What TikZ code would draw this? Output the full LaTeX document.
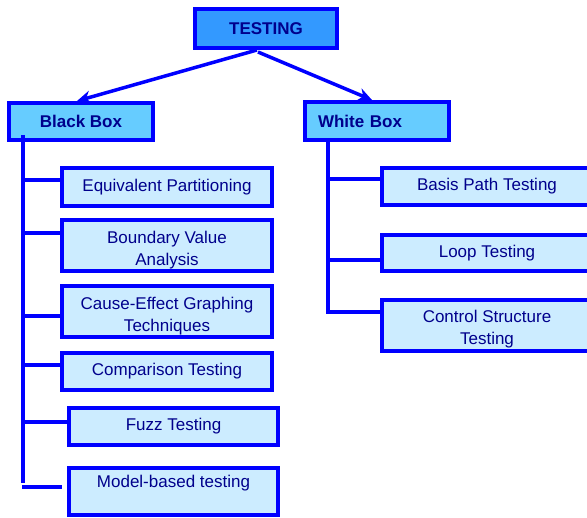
\documentclass[tikz,border=0pt]{standalone}
\usepackage{fontspec}
\setmainfont{Liberation Sans}
\usetikzlibrary{arrows.meta,calc}
\definecolor{bord}{RGB}{0,0,255}
\definecolor{navytxt}{RGB}{0,0,140}
\definecolor{topfill}{RGB}{51,153,255}
\definecolor{midfill}{RGB}{102,204,255}
\definecolor{leaffill}{RGB}{204,236,255}
\begin{document}
\begin{tikzpicture}[x=1pt,y=-1pt,
  base/.style={draw=bord, line width=4pt, text=navytxt, inner sep=0pt,
    font=\fontsize{17}{22}\selectfont, align=center},
  topbox/.style={base, fill=topfill, font=\fontsize{17}{22}\selectfont\bfseries},
  midbox/.style={base, fill=midfill, font=\fontsize{17}{22}\selectfont\bfseries},
  leaf/.style={base, fill=leaffill, minimum width=210pt},
  txt/.style={text=navytxt, inner sep=0pt, font=\fontsize{17}{22}\selectfont, align=center},
  conn/.style={draw=bord, line width=3.5pt},
  arr/.style={draw=bord, line width=3.5pt, -{Stealth[length=14pt,width=13pt]}}]
\useasboundingbox (0,0) rectangle (587,518);
\clip (0,0) rectangle (587,518);
\fill[white] (0,0) rectangle (587,518);

% top
\node[topbox, minimum width=142pt, minimum height=39pt] (t) at (266,28.5) {TESTING};
\node[midbox, minimum width=144pt, minimum height=37pt] (bb) at (81,121.5) {Black Box};
\node[midbox, minimum width=144pt, minimum height=38pt, text width=136pt, align=left] (wb) at (377,121) {\hspace*{9pt}White Box};

% left leaves
\node[leaf, minimum height=38pt] (eq) at (167,187) {Equivalent Partitioning};
\node[leaf, minimum height=51pt] (bv) at (167,245.5) {};
\node[txt] (bvt) at (167,250) {Boundary Value\\Analysis};
\node[leaf, minimum height=51pt] (ce) at (167,311.5) {};
\node[txt] (cet) at (167,316) {Cause-Effect Graphing\\Techniques};
\node[leaf, minimum height=37pt] (cp) at (167,371.5) {Comparison Testing};
\node[leaf, minimum width=209pt, minimum height=37pt] (fz) at (173.5,426.5) {Fuzz Testing};
\node[leaf, minimum width=209pt, minimum height=47pt] (mb) at (173.5,491.5) {};
\node[txt] (mbt) at (173.5,483) {Model-based testing};

% right leaves
\node[leaf, minimum height=37pt] (bp) at (487,186.5) {Basis Path Testing};
\node[leaf, minimum height=36pt] (lp) at (487,253) {Loop Testing};
\node[leaf, minimum height=51pt] (cs) at (487,325.5) {};
\node[txt] (cst) at (487,329) {Control Structure\\Testing};

% arrows
\draw[arr] ($(t.south)+(-9,0)$) -- ($(bb.north)+(-4,0)$);
\draw[arr] ($(t.south)+(-8,2)$) -- ($(wb.north)+(-5,0)$);

% left trunk
\coordinate (lt) at (23,135);
\coordinate (lb) at (23,483);
\draw[conn] (lt) -- (lb);
\coordinate (l1) at (23,180);
\coordinate (l2) at (23,233);
\coordinate (l3) at (23,316);
\coordinate (l4) at (23,365);
\coordinate (l5) at (23,422);
\coordinate (l6) at (22,487);
\coordinate (l6e) at (62,487);
\draw[conn] (l1) -- (l1 -| eq.west);
\draw[conn] (l2) -- (l2 -| bv.west);
\draw[conn] (l3) -- (l3 -| ce.west);
\draw[conn] (l4) -- (l4 -| cp.west);
\draw[conn] (l5) -- (l5 -| fz.west);
\draw[conn] (l6) -- (l6e);

% right trunk
\coordinate (rt) at (328,142);
\coordinate (r1) at (328,179);
\coordinate (r2) at (328,260);
\coordinate (r3) at (328,312);
\draw[conn] (rt) -- (r3) -- (r3 -| cs.west);
\draw[conn] (r1) -- (r1 -| bp.west);
\draw[conn] (r2) -- (r2 -| lp.west);
\end{tikzpicture}
\end{document}
